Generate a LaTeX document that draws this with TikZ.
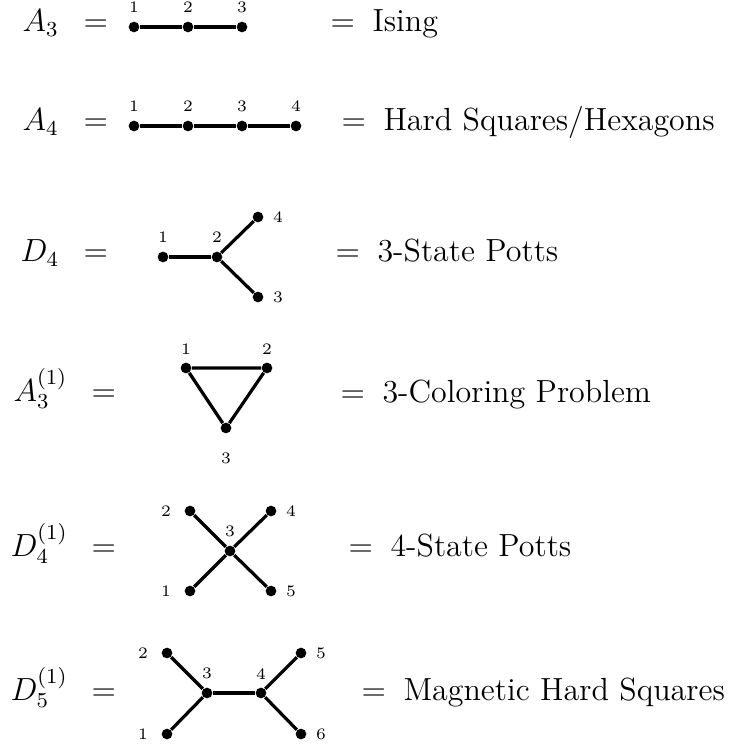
\documentclass[12pt,tikz,border=0pt]{standalone}
\usepackage{amsmath}
\usetikzlibrary{positioning}
\tikzset{
  fx/.style={x=0.375pt, y=-0.375pt},
  g dot/.style={circle, fill=black, inner sep=0pt, minimum size=4pt},
  g lbl/.style={font=\tiny, inner sep=1pt},
  g bond/.style={line width=1.2pt},
  g name/.style={anchor=base west, inner sep=0pt},
  lab n/.style={label={[g lbl, label distance=1.85pt]above:#1}},
  lab e/.style={label={[g lbl, label distance=2.3pt]right:#1}},
  lab w/.style={label={[g lbl, label distance=3.8pt]left:#1}},
  lab s/.style={label={[g lbl, label distance=5.95pt]below:#1}},
}
\begin{document}
\begin{tikzpicture}[fx]
\useasboundingbox (0,0) rectangle (729,751);
% A_3
\node[g name] (mA3) at (22,32) {$A_3$};
\node[g name] (qA3) at (83,32) {$=$};
\node[g dot, lab n=1] (a1) at (134,27) {};
\node[g dot, lab n=2] (a2) at (188,27) {};
\node[g dot, lab n=3] (a3) at (242,27) {};
\draw[g bond] (a1) -- (a2) -- (a3);
\node[g name] (tA3) at (330,32) {$=$\hspace{0.55em}Ising};
% A_4
\node[g name] (mA4) at (22,131) {$A_4$};
\node[g name] (qA4) at (83,131) {$=$};
\node[g dot, lab n=1] (b1) at (134,126) {};
\node[g dot, lab n=2] (b2) at (188,126) {};
\node[g dot, lab n=3] (b3) at (242,126) {};
\node[g dot, lab n=4] (b4) at (296,126) {};
\draw[g bond] (b1) -- (b2) -- (b3) -- (b4);
\node[g name] (tA4) at (341,131) {$=$\hspace{0.55em}Hard Squares/Hexagons};
% D_4
\node[g name] (mD4) at (20,262) {$D_4$};
\node[g name] (qD4) at (83,262) {$=$};
\node[g dot, lab n=1] (c1) at (163,257) {};
\node[g dot, lab n=2] (c2) at (217,257) {};
\node[g dot, lab e=4] (c4) at (258,217) {};
\node[g dot, lab e=3] (c3) at (258,297) {};
\draw[g bond] (c1) -- (c2);
\draw[g bond] (c2) -- (c4);
\draw[g bond] (c2) -- (c3);
\node[g name] (tD4) at (335,262) {$=$\hspace{0.55em}3-State Potts};
% A_3^(1)
\node[g name] (mA31) at (13,401) {$A_3^{(1)}$};
\node[g name] (qA31) at (91,401) {$=$};
\node[g dot, lab n=1] (d1) at (186,368) {};
\node[g dot, lab n=2] (d2) at (267,368) {};
\node[g dot, lab s=3] (d3) at (226,428) {};
\draw[g bond] (d1) -- (d2) -- (d3) -- (d1);
\node[g name] (tA31) at (340,402) {$=$\hspace{0.55em}3-Coloring Problem};
% D_4^(1)
\node[g name] (mD41) at (10,556) {$D_4^{(1)}$};
\node[g name] (qD41) at (91,556) {$=$};
\node[g dot, lab w=2] (e2) at (190,511) {};
\node[g dot, lab e=4] (e4) at (271,511) {};
\node[g dot, lab n=3] (e3) at (230,551) {};
\node[g dot, lab w=1] (e1) at (190,591) {};
\node[g dot, lab e=5] (e5) at (271,591) {};
\draw[g bond] (e2) -- (e3) -- (e5);
\draw[g bond] (e1) -- (e3) -- (e4);
\node[g name] (tD41) at (348,556) {$=$\hspace{0.55em}4-State Potts};
% D_5^(1)
\node[g name] (mD51) at (10,700) {$D_5^{(1)}$};
\node[g name] (qD51) at (91,700) {$=$};
\node[g dot, lab w=2] (f2) at (167,653) {};
\node[g dot, lab w=1] (f1) at (167,734) {};
\node[g dot, lab n=3] (f3) at (207,693) {};
\node[g dot, lab n=4] (f4) at (261,693) {};
\node[g dot, lab e=5] (f5) at (301,653) {};
\node[g dot, lab e=6] (f6) at (301,734) {};
\draw[g bond] (f2) -- (f3);
\draw[g bond] (f1) -- (f3);
\draw[g bond] (f3) -- (f4);
\draw[g bond] (f4) -- (f5);
\draw[g bond] (f4) -- (f6);
\node[g name] (tD51) at (361,700) {$=$\hspace{0.55em}Magnetic Hard Squares};
\end{tikzpicture}
\end{document}
